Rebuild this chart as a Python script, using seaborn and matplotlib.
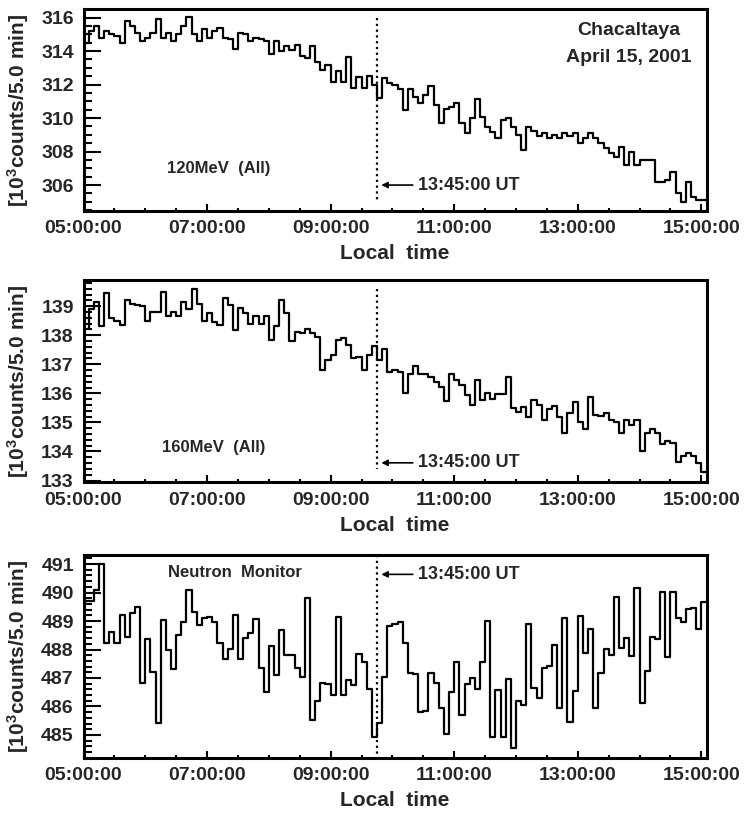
import numpy as np
import pandas as pd
import matplotlib
matplotlib.use("Agg")
import matplotlib.pyplot as plt
from matplotlib.ticker import MultipleLocator, FuncFormatter
import seaborn as sns

# 5-minute count rates, Chacaltaya, April 15 2001, 05:00-15:05 local time
start_hour = 5.0
bin_minutes = 5.0
event_hour = 9.75  # 13:45:00 UT in local time

rate_120mev = [
    314.5, 315.2, 315.5, 314.8, 315.2, 315.0, 314.9, 314.5, 315.8, 315.5,
    315.1, 314.6, 314.8, 315.1, 315.9, 314.8, 315.1, 314.6, 315.0, 315.5,
    316.05, 315.0, 314.6, 315.3, 314.8, 315.2, 315.4, 314.8, 314.7, 314.1,
    315.1, 315.0, 314.6, 314.8, 314.7, 314.6, 313.8, 314.6, 314.0, 314.3,
    314.06, 314.36, 313.7, 313.56, 314.32, 313.36, 312.87, 313.16, 312.17, 312.83,
    312.17, 313.66, 311.77, 312.43, 311.77, 312.51, 311.97, 311.17, 312.37, 312.07,
    311.97, 311.71, 310.48, 311.71, 311.27, 310.92, 311.37, 311.91, 310.78, 309.72,
    310.52, 310.64, 310.88, 309.68, 309.08, 309.98, 311.11, 310.08, 309.48, 309.18,
    308.79, 309.88, 309.98, 309.48, 308.99, 308.09, 309.48, 309.2, 308.9, 309.1,
    308.8, 309.0, 308.8, 309.1, 308.9, 309.1, 308.5, 308.8, 309.1, 308.8,
    308.5, 308.2, 307.9, 307.7, 308.3, 307.2, 308.0, 307.2, 307.5, 307.5,
    307.5, 306.2, 306.2, 306.3, 306.8, 305.5, 305.0, 306.2, 305.3, 305.1,
    305.1,
]

rate_160mev = [
    138.2, 138.9, 139.15, 138.31, 139.46, 138.58, 138.5, 138.35, 139.2, 139.07,
    139.05, 139.0, 138.5, 138.8, 138.8, 139.48, 138.65, 138.8, 138.65, 139.15,
    138.9, 139.6, 139.07, 138.5, 138.77, 138.46, 138.35, 139.28, 139.04, 138.18,
    138.92, 138.77, 138.38, 138.66, 138.38, 138.65, 137.84, 138.32, 139.2, 138.75,
    137.8, 138.12, 138.06, 138.23, 138.06, 137.95, 136.82, 137.14, 137.32, 137.83,
    137.89, 137.66, 137.2, 137.24, 136.82, 137.32, 137.63, 137.14, 137.51, 136.74,
    136.82, 136.74, 136.02, 136.66, 136.94, 136.66, 136.66, 136.57, 136.4, 136.23,
    135.74, 136.66, 136.46, 136.29, 135.94, 135.6, 136.46, 135.77, 136.02, 135.79,
    135.98, 135.98, 136.55, 135.48, 135.37, 135.54, 135.2, 135.77, 135.6, 135.08,
    135.45, 135.56, 135.2, 134.62, 135.33, 135.71, 135.03, 134.76, 135.86, 135.25,
    135.22, 135.33, 135.08, 135.03, 134.62, 135.1, 134.91, 135.1, 134.03, 134.62,
    134.76, 134.62, 134.26, 134.37, 134.3, 133.65, 133.83, 133.94, 133.83, 133.59,
    133.3,
]

rate_neutron = [
    489.7, 489.7, 490.09, 491.0, 488.24, 488.63, 488.24, 489.21, 488.45, 489.29,
    489.48, 486.81, 488.36, 487.22, 485.43, 489.04, 487.98, 487.3, 488.51, 488.98,
    490.09, 489.33, 488.86, 489.09, 489.13, 488.98, 488.22, 487.65, 488.01, 489.21,
    487.65, 488.4, 488.59, 489.06, 487.34, 486.52, 488.12, 487.11, 488.68, 487.81,
    487.81, 487.34, 487.05, 489.8, 485.53, 486.2, 486.84, 486.79, 486.4, 489.15,
    486.4, 486.93, 486.75, 487.84, 487.57, 486.6, 484.94, 485.43, 487.02, 488.82,
    488.9, 488.98, 488.22, 487.16, 487.14, 485.82, 485.85, 487.16, 486.81, 485.94,
    485.04, 486.52, 487.57, 485.7, 486.79, 486.99, 486.6, 487.57, 489.01, 484.92,
    486.58, 484.92, 486.96, 484.53, 486.2, 486.05, 488.9, 486.64, 486.29, 487.34,
    487.42, 488.16, 485.94, 489.09, 485.47, 486.56, 489.18, 487.89, 488.71, 485.94,
    487.19, 488.01, 487.81, 489.85, 488.04, 488.39, 487.77, 490.15, 486.11, 487.26,
    488.45, 488.36, 490.03, 487.73, 490.03, 489.09, 488.98, 489.41, 489.45, 488.71,
    489.68,
]

panel_labels = ["120MeV  (All)", "160MeV  (All)", "Neutron  Monitor"]
hour_ticks = [5, 7, 9, 11, 13, 15]

sns.set_style("ticks")
plt.rcParams.update({
    "font.family": ["Liberation Sans", "DejaVu Sans"],
    "font.weight": "bold",
    "axes.labelweight": "bold",
    "mathtext.fontset": "custom",
    "mathtext.rm": "Liberation Sans:bold",
    "mathtext.bf": "Liberation Sans:bold",
    "mathtext.it": "Liberation Sans:bold",
})

W, H = 746, 813
fig = plt.figure(figsize=(W / 100, H / 100), dpi=100)


def px_axes(left, top, right, bottom):
    return fig.add_axes([left / W, 1 - bottom / H, (right - left) / W, (bottom - top) / H])


panels = [
    dict(values=rate_120mev, box=(83.5, 9.3, 706.5, 210.7), ylim=(304.47, 316.49),
         major=2, minor=0.5, label=panel_labels[0], label_xy=(7.18, 307.0),
         event_span=(316.0, 305.1), arrow_y=306.0, title=True),
    dict(values=rate_160mev, box=(83.5, 280.0, 706.5, 482.0), ylim=(132.95, 139.9),
         major=1, minor=0.2, label=panel_labels[1], label_xy=(7.1, 134.15),
         event_span=(139.6, 133.4), arrow_y=133.61, title=False),
    dict(values=rate_neutron, box=(83.5, 555.0, 706.5, 757.7), ylim=(484.2, 491.32),
         major=1, minor=0.2, label=panel_labels[2], label_xy=(7.45, 490.72),
         event_span=(491.32, 484.2), arrow_y=490.64, title=False),
]

for p in panels:
    ax = px_axes(*p["box"])
    vals = np.asarray(p["values"], dtype=float)
    hours = start_hour + np.arange(len(vals)) * bin_minutes / 60.0
    # closing edge so the last bin is drawn to its full width
    df = pd.DataFrame({
        "hour": np.append(hours, hours[-1] + bin_minutes / 60.0),
        "rate": np.append(vals, vals[-1]),
    })
    sns.lineplot(data=df, x="hour", y="rate", ax=ax, color="black", lw=1.6,
                 drawstyle="steps-post", estimator=None, legend=False)

    ax.set_xlim(start_hour, start_hour + len(vals) * bin_minutes / 60.0)
    ax.set_ylim(*p["ylim"])

    ax.xaxis.set_major_locator(plt.FixedLocator(hour_ticks))
    ax.xaxis.set_minor_locator(MultipleLocator(0.5))
    ax.xaxis.set_major_formatter(FuncFormatter(lambda v, pos: f"{int(round(v)):02d}:00:00"))
    ax.yaxis.set_major_locator(MultipleLocator(p["major"]))
    ax.yaxis.set_minor_locator(MultipleLocator(p["minor"]))
    ax.yaxis.set_major_formatter(FuncFormatter(lambda v, pos: f"{v:.0f}"))

    ax.tick_params(axis="both", which="both", direction="in", top=False, right=False,
                   color="black", width=1.5)
    ax.tick_params(axis="y", which="major", length=12, labelsize=14, pad=7)
    ax.tick_params(axis="y", which="minor", length=6)
    ax.tick_params(axis="x", which="major", length=5, labelsize=14, pad=7)
    ax.tick_params(axis="x", which="minor", length=2.5)
    for t in ax.get_xticklabels() + ax.get_yticklabels():
        t.set_fontweight("bold")

    for s in ax.spines.values():
        s.set_visible(True)
        s.set_linewidth(2.2)
        s.set_color("black")

    ax.set_xlabel("Local  time", fontsize=15, fontweight="bold", labelpad=5)
    ax.set_ylabel(r"[10$^{3}$counts/5.0 min]", fontsize=15, fontweight="bold")
    ax.yaxis.set_label_coords(-0.084, 0.5)

    ax.plot([event_hour, event_hour], p["event_span"], color="black",
            lw=1.6, linestyle=(0, (1, 1.6)))
    ax.annotate("", xy=(9.82, p["arrow_y"]), xytext=(10.33, p["arrow_y"]),
                arrowprops=dict(arrowstyle="-|>", color="black", lw=1.2,
                                mutation_scale=9, shrinkA=0, shrinkB=0))
    ax.text(10.41, p["arrow_y"], "13:45:00 UT", fontsize=13, fontweight="bold",
            ha="left", va="center")
    ax.text(*p["label_xy"], p["label"], fontsize=12, fontweight="bold",
            ha="center", va="center")

    if p["title"]:
        ax.text(13.83, 0.897, "Chacaltaya", transform=ax.get_xaxis_transform(),
                fontsize=14, fontweight="bold", ha="center", va="center")
        ax.text(13.83, 0.763, "April 15, 2001", transform=ax.get_xaxis_transform(),
                fontsize=14, fontweight="bold", ha="center", va="center")

fig.savefig("out.png", dpi=100, facecolor="white")
